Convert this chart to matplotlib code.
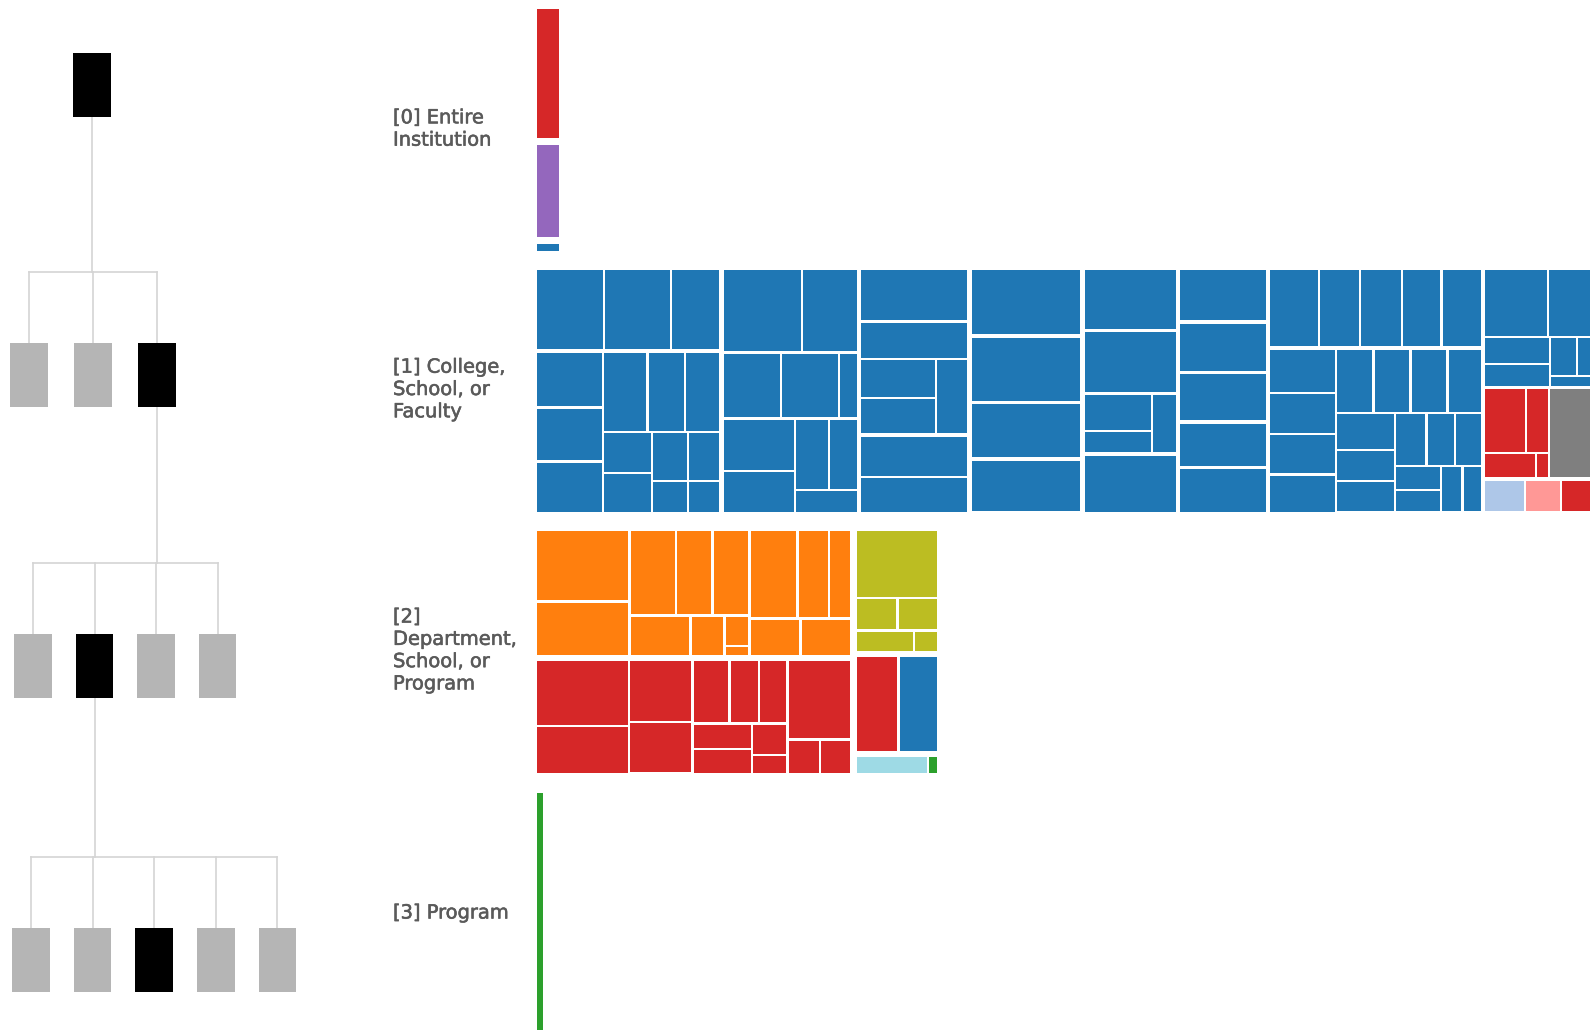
import matplotlib.pyplot as plt
import matplotlib.patheffects as pe
from matplotlib.patches import Rectangle

plt.rcParams['font.family'] = ['DejaVu Sans']

BLUE = "#1f77b4"
RED = "#d62728"
PURPLE = "#9467bd"
ORANGE = "#ff7f0e"
OLIVE = "#bcbd22"
GRAY = "#7f7f7f"
LIGHTBLUE = "#aec7e8"
PINK = "#ff9896"
CYAN = "#9edae5"
GREEN = "#2ca02c"

# level names
level_labels = ["[0] Entire\nInstitution",
                "[1] College,\nSchool, or\nFaculty",
                "[2]\nDepartment,\nSchool, or\nProgram",
                "[3] Program"]

# little org chart on the left: boxes per level, which one is selected
boxes_per_level = [1, 3, 4, 5]
selected = [0, 2, 1, 2]

# treemap values (a tuple = colour for that branch, nested list = split)
band0 = [(RED, 30.0), (PURPLE, 21.3), (BLUE, 1.7)]

col_a = [[55.9, 54.3, 39.7],
         [[37.5, 36.2, 34.2],
          [[36.0, 30.4, 28.0],
           [[20.1, 19.6], [[18.0, 16.5], [11.2, 10.2]]]]]]
col_b = [[[[66.7, 47.0], [38.3, 38.2, 11.5]]],
         [[36.7, 29.7], [[24.3, 20.4], 13.4]]]
col_c = [[[57.0, 39.1, [[30.1, 27.9], 24.0]]],
         [[44.1, 37.2]]]
col_d = [74.5, 72.3, 61.0, 58.7]
col_e = [57.2, 57.2, [[25.7, 14.9], 14.4], 53.6]
col_f = [46.5, 43.5, 41.9, 38.5, 39.0]
col_g = [[39.0, 32.2, 32.5, 31.0, 31.2],
         [[29.2, 27.1, 27.1, 25.1],
          [[23.9, 23.7, 23.7, 21.8],
           [[22.1, 18.6, 18.6],
            [[17.3, 15.4, 14.6], [[11.3, 11.0], 9.9, 8.6]]]]]]
col_h = [[[[44.5, 29.0], [[18.4, 14.8], [[11.3, 5.0], 4.0]]]],
         [(RED, [[28.3, 14.6], [13.0, 2.9]]), (GRAY, 37.2)],
         [(LIGHTBLUE, 13.0), (PINK, 11.1), (RED, 9.2)]]
band1 = [col_a, col_b, col_c, col_d, col_e, col_f, col_g, col_h]

orange = [[68.3, 51.2],
          [[40.6, 31.6, 32.1], [24.9, 13.4, [7.6, 2.0]]],
          [[44.3, 28.0, 19.4], [18.8, 18.7]]]
red2 = [[62.1, 44.6],
        [38.9, 32.6],
        [[23.7, 18.7, 18.2], [[15.2, 14.7], [11.3, 6.4]]],
        [50.4, [10.6, 10.4]]]
olive = [[58.2, [13.4, 12.9], [12.2, 4.8]]]
band2 = [[(ORANGE, orange), (RED, red2)],
         [(OLIVE, olive), [(RED, 40.9), (BLUE, 37.7)], [(CYAN, 11.6), (GREEN, 1.3)]]]

band3 = 16.5


def size(node):
    if isinstance(node, tuple):
        return size(node[1])
    if isinstance(node, list):
        return sum(size(c) for c in node)
    return node


def place(node, x, y, w, h, depth, across, color, gaps, out):
    if isinstance(node, tuple):
        color, node = node
    if not isinstance(node, list):
        out.append((x, y, w, h, color))
        return
    g = gaps[min(depth, 2)]
    total = size(node)
    span = (w if across else h) - g * (len(node) - 1)
    pos = x if across else y
    for child in node:
        s = span * size(child) / total
        if across:
            place(child, pos, y, s, h, depth + 1, False, color, gaps, out)
        else:
            place(child, x, pos, w, s, depth + 1, True, color, gaps, out)
        pos += s + g


fig = plt.figure(figsize=(15.95, 10.30), dpi=100)
ax = fig.add_axes([0, 0, 1, 1])
ax.set_xlim(0, 1595)
ax.set_ylim(1030, 0)
ax.axis('off')

# treemaps, one band per level, all the same height
unit_area = 101.8
band_h = 242
band_x = 536.5
bands = [(band0, False, RED, [7.0, 2.5, 2.2], 9),
         (band1, True, BLUE, [4.5, 3.5, 2.2], 269.5),
         (band2, True, ORANGE, [7.0, 6.5, 2.5], 530.5),
         (band3, True, GREEN, [0, 0, 0], 793)]

txt_c = '#5a5a5a'
for i, (nodes, across, col, gaps, top) in enumerate(bands):
    w = size(nodes) * unit_area / band_h
    rects = []
    place(nodes, band_x, top, w, band_h, 0, across, col, gaps, rects)
    for (rx, ry, rw, rh, c) in rects:
        ax.add_patch(Rectangle((rx, ry), rw, rh, facecolor=c, edgecolor='none'))
    ax.text(393, top + band_h / 2 - 1, level_labels[i], ha='left', va='center',
            fontsize=14, color=txt_c, linespacing=1.22,
            path_effects=[pe.withStroke(linewidth=0.4, foreground=txt_c)])

# org chart
level_y = [85, 375, 666, 960]
level_x0 = [92, 29, 33, 31]
level_dx = [0, 64, 61.5, 61.6]
box_w, box_h = 37.5, 64
line_c = '#d4d4d4'

centers = []
for k, n in enumerate(boxes_per_level):
    xs = [level_x0[k] + j * level_dx[k] for j in range(n)]
    centers.append(xs)
    if k > 0:
        px = centers[k - 1][selected[k - 1]]
        bar_y = level_y[k] - box_h / 2 - 71
        ax.plot([px, px], [level_y[k - 1] + box_h / 2, bar_y], color=line_c, lw=1.2, zorder=1)
        ax.plot([xs[0], xs[-1]], [bar_y, bar_y], color=line_c, lw=1.2, zorder=1)
        for cx in xs:
            ax.plot([cx, cx], [bar_y, level_y[k] - box_h / 2], color=line_c, lw=1.2, zorder=1)
    for j, cx in enumerate(xs):
        fc = 'black' if j == selected[k] else '#b5b5b5'
        ax.add_patch(Rectangle((cx - box_w / 2, level_y[k] - box_h / 2), box_w, box_h,
                               facecolor=fc, edgecolor='none', zorder=2))

fig.savefig('out.png', dpi=100)
